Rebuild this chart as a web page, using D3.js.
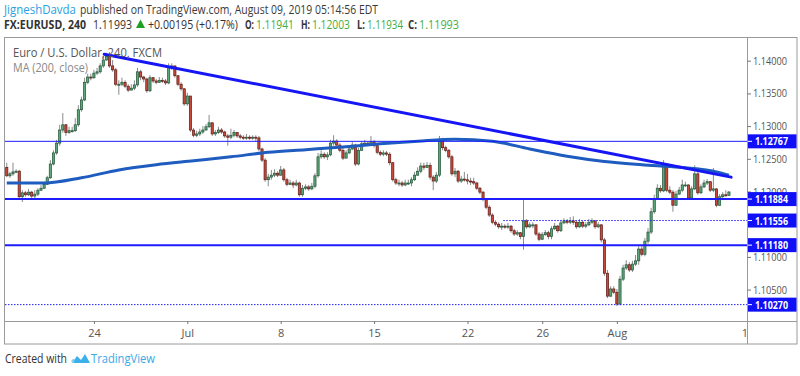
<!DOCTYPE html>
<html><head><meta charset="utf-8">
<script src="https://cdn.jsdelivr.net/npm/d3@7"></script>
<style>
body{margin:0;background:#fff;}
svg{display:block;font-family:"Open Sans","Liberation Sans",sans-serif;}
</style>
</head><body>
<svg id="c" width="800" height="376"></svg>
<script>
// ---------- DATA (EURUSD 4H, FXCM) ----------
const firstOpen = 1.1237;
const closes = [
1.1224,1.1227,1.1230,1.1231,1.1192,1.1198,1.1195,1.1199,1.1193,1.1196,
1.1202,1.1205,1.1211,1.1221,1.1242,1.1259,1.1274,1.1294,1.1302,1.1290,
1.1293,1.1293,1.1302,1.1325,1.1340,1.1367,1.1375,1.1374,1.1381,1.1383,
1.1392,1.1401,1.1407,1.1392,1.1386,1.1364,1.1364,1.1367,1.1361,1.1355,
1.1358,1.1363,1.1383,1.1375,1.1372,1.1354,1.1374,1.1369,1.1367,1.1370,
1.1369,1.1366,1.1390,1.1392,1.1377,1.1364,1.1357,1.1334,1.1346,1.1294,
1.1286,1.1288,1.1291,1.1294,1.1299,1.1305,1.1288,1.1290,1.1294,1.1291,
1.1285,1.1283,1.1286,1.1290,1.1285,1.1283,1.1282,1.1283,1.1282,1.1283,
1.1282,1.1265,1.1248,1.1218,1.1222,1.1225,1.1228,1.1225,1.1233,1.1218,
1.1211,1.1213,1.1210,1.1213,1.1195,1.1205,1.1207,1.1204,1.1208,1.1224,
1.1253,1.1257,1.1253,1.1256,1.1274,1.1277,1.1271,1.1263,1.1251,1.1259,
1.1265,1.1271,1.1242,1.1263,1.1273,1.1274,1.1273,1.1276,1.1270,1.1260,
1.1257,1.1259,1.1257,1.1244,1.1218,1.1213,1.1213,1.1210,1.1213,1.1213,
1.1218,1.1225,1.1231,1.1239,1.1237,1.1240,1.1222,1.1216,1.1225,1.1279,
1.1267,1.1263,1.1253,1.1227,1.1231,1.1216,1.1219,1.1218,1.1216,1.1215,
1.1213,1.1205,1.1199,1.1189,1.1176,1.1164,1.1153,1.1150,1.1146,1.1147,
1.1146,1.1147,1.1140,1.1135,1.1137,1.1131,1.1155,1.1146,1.1149,1.1149,
1.1135,1.1127,1.1134,1.1137,1.1131,1.1143,1.1147,1.1140,1.1152,1.1155,
1.1153,1.1155,1.1153,1.1146,1.1153,1.1147,1.1149,1.1153,1.1155,1.1146,
1.1149,1.1126,1.1075,1.1040,1.1051,1.1046,1.1028,1.1066,1.1083,1.1088,
1.1080,1.1089,1.1094,1.1112,1.1104,1.1124,1.1138,1.1169,1.1189,1.1205,
1.1201,1.1239,1.1202,1.1199,1.1179,1.1196,1.1202,1.1210,1.1210,1.1190,
1.1204,1.1227,1.1198,1.1207,1.1213,1.1215,1.1202,1.1204,1.1179,1.1192,
1.1195,1.11941,1.11993];
const highs = [
1.1244,1.1230,1.1244,1.1234,1.1233,1.1202,1.1201,1.1204,1.1201,1.1202,
1.1205,1.1210,1.1215,1.1224,1.1248,1.1263,1.1279,1.1302,1.1320,1.1303,
1.1299,1.1299,1.1312,1.1332,1.1345,1.1374,1.1380,1.1380,1.1386,1.1389,
1.1396,1.1407,1.1412,1.1413,1.1401,1.1389,1.1370,1.1374,1.1370,1.1364,
1.1364,1.1370,1.1389,1.1386,1.1377,1.1374,1.1378,1.1375,1.1372,1.1375,
1.1374,1.1372,1.1396,1.1396,1.1393,1.1378,1.1367,1.1358,1.1351,1.1346,
1.1297,1.1293,1.1296,1.1300,1.1303,1.1317,1.1306,1.1294,1.1299,1.1297,
1.1293,1.1288,1.1296,1.1294,1.1291,1.1288,1.1286,1.1288,1.1286,1.1286,
1.1286,1.1285,1.1267,1.1251,1.1227,1.1233,1.1234,1.1231,1.1239,1.1236,
1.1221,1.1218,1.1216,1.1218,1.1215,1.1210,1.1211,1.1210,1.1213,1.1228,
1.1259,1.1263,1.1260,1.1260,1.1279,1.1286,1.1280,1.1274,1.1267,1.1263,
1.1270,1.1276,1.1273,1.1267,1.1277,1.1279,1.1277,1.1285,1.1279,1.1273,
1.1263,1.1263,1.1262,1.1260,1.1245,1.1221,1.1218,1.1216,1.1218,1.1218,
1.1222,1.1230,1.1237,1.1244,1.1244,1.1245,1.1244,1.1225,1.1230,1.1285,
1.1282,1.1270,1.1265,1.1256,1.1236,1.1233,1.1224,1.1230,1.1227,1.1221,
1.1221,1.1215,1.1207,1.1201,1.1190,1.1179,1.1167,1.1156,1.1153,1.1152,
1.1150,1.1152,1.1149,1.1143,1.1141,1.1138,1.1187,1.1158,1.1153,1.1153,
1.1150,1.1138,1.1138,1.1141,1.1140,1.1147,1.1152,1.1149,1.1156,1.1159,
1.1158,1.1161,1.1162,1.1156,1.1158,1.1155,1.1153,1.1158,1.1159,1.1156,
1.1153,1.1150,1.1129,1.1080,1.1055,1.1055,1.1051,1.1071,1.1088,1.1095,
1.1092,1.1094,1.1103,1.1118,1.1117,1.1129,1.1144,1.1175,1.1195,1.1211,
1.1210,1.1248,1.1240,1.1208,1.1202,1.1201,1.1207,1.1218,1.1215,1.1211,
1.1208,1.1240,1.1230,1.1211,1.1218,1.1219,1.1216,1.1236,1.1205,1.1196,
1.1199,1.1202,1.12003];
const lows = [
1.1222,1.1221,1.1224,1.1228,1.1190,1.1184,1.1192,1.1193,1.1190,1.1190,
1.1193,1.1201,1.1204,1.1210,1.1219,1.1240,1.1256,1.1270,1.1290,1.1285,
1.1288,1.1290,1.1291,1.1299,1.1322,1.1338,1.1364,1.1370,1.1372,1.1378,
1.1380,1.1389,1.1400,1.1389,1.1383,1.1361,1.1348,1.1361,1.1358,1.1352,
1.1355,1.1355,1.1360,1.1370,1.1367,1.1351,1.1352,1.1366,1.1364,1.1366,
1.1366,1.1363,1.1364,1.1386,1.1374,1.1361,1.1354,1.1331,1.1331,1.1291,
1.1283,1.1283,1.1285,1.1288,1.1293,1.1297,1.1285,1.1285,1.1288,1.1288,
1.1282,1.1270,1.1280,1.1283,1.1282,1.1280,1.1279,1.1279,1.1279,1.1279,
1.1277,1.1262,1.1245,1.1215,1.1208,1.1218,1.1222,1.1222,1.1224,1.1215,
1.1208,1.1210,1.1205,1.1208,1.1192,1.1192,1.1202,1.1201,1.1202,1.1205,
1.1221,1.1250,1.1250,1.1248,1.1254,1.1270,1.1268,1.1260,1.1248,1.1251,
1.1257,1.1263,1.1239,1.1240,1.1262,1.1270,1.1270,1.1271,1.1267,1.1257,
1.1254,1.1254,1.1254,1.1240,1.1215,1.1210,1.1208,1.1207,1.1208,1.1210,
1.1208,1.1216,1.1224,1.1228,1.1233,1.1236,1.1218,1.1202,1.1213,1.1222,
1.1263,1.1260,1.1250,1.1224,1.1222,1.1213,1.1213,1.1215,1.1211,1.1210,
1.1210,1.1202,1.1196,1.1185,1.1173,1.1161,1.1150,1.1147,1.1143,1.1141,
1.1143,1.1143,1.1137,1.1132,1.1132,1.1127,1.1111,1.1143,1.1144,1.1144,
1.1132,1.1124,1.1126,1.1132,1.1127,1.1127,1.1141,1.1137,1.1138,1.1150,
1.1150,1.1150,1.1149,1.1143,1.1144,1.1144,1.1144,1.1147,1.1150,1.1143,
1.1144,1.1122,1.1071,1.1037,1.1039,1.1043,1.1025,1.1026,1.1063,1.1080,
1.1077,1.1077,1.1086,1.1088,1.1101,1.1101,1.1120,1.1135,1.1166,1.1187,
1.1198,1.1199,1.1199,1.1196,1.1169,1.1178,1.1195,1.1199,1.1207,1.1187,
1.1189,1.1202,1.1195,1.1196,1.1205,1.1210,1.1199,1.1199,1.1176,1.1178,
1.1190,1.1192,1.11934];

// MA(200, close) read at sample bars
const maBars   = [0,12,24,36,48,60,72,84,96,108,120,132,144,156,168,180,192,204,216,228,232];
const maValues = [1.1213,1.1213,1.1221,1.1233,1.1241,1.1247,1.1253,1.1260,1.1264,1.1268,1.1273,
                  1.1277,1.1280,1.1277,1.1265,1.1254,1.1246,1.1241,1.1237,1.1230,1.1225];

// trend line drawing (bar, price)
const trendBars   = [31.3, 232.7];
const trendPrices = [1.1410, 1.1222];

// horizontal levels
const levelPrices = [1.12767, 1.11884, 1.11556, 1.11180, 1.10270];
const levelKinds  = ["thin", "thick", "dotted", "thick", "dotted"];
const levelStartBar = [null, null, 159.5, null, null];

// price scale labels (1.11500 sits fully under the 1.11556 marker in the reference)
const priceTicks = [1.14, 1.135, 1.13, 1.125, 1.12, 1.11, 1.105];
const timeTickBars   = [28, 58, 88, 118, 148, 172, 196, 238];
const timeTickLabels = ["24", "Jul", "8", "15", "22", "26", "Aug", "12"];

// ---------- LAYOUT ----------
const svg = d3.select("#c");
const L = 5, R = 747, T = 38, B = 321, FR = 797, FB = 344;

const x = d3.scaleLinear().domain([-0.57, 237.8]).range([L, R]);
const y = d3.scaleLinear().domain([1.10020, 1.14347]).range([B, T]);

const defs = svg.append("defs");
defs.append("clipPath").attr("id","plot").append("rect")
  .attr("x",L).attr("y",T).attr("width",R-L).attr("height",B-T);
defs.append("clipPath").attr("id","taxis").append("rect")
  .attr("x",L).attr("y",B).attr("width",R-L).attr("height",FB-B);

// header
const hdr = svg.append("g").style("font-size","12.5px");
const l1 = hdr.append("text").attr("y",14);
l1.append("tspan").attr("x",4).attr("fill","#2c9fe0")
  .attr("textLength",72).attr("lengthAdjust","spacingAndGlyphs").text("JigneshDavda");
l1.append("tspan").attr("x",80).attr("fill","#3a3a3a")
  .attr("textLength",298).attr("lengthAdjust","spacingAndGlyphs")
  .text("published on TradingView.com, August 09, 2019 05:14:56 EDT");

const green = "#43ad43";
const line2 = [
  {t:"FX:EURUSD, 240", x:4, w:82, c:"#333", b:true},
  {t:"1.11993", x:93, w:39, c:"#333"},
  {t:"+0.00195 (+0.17%)", x:148, w:90, c:"#333"},
  {t:"O:", x:245, w:9, c:"#333", b:true},
  {t:"1.11941", x:256, w:38, c:green},
  {t:"H:", x:301, w:9, c:"#333", b:true},
  {t:"1.12003", x:312, w:38, c:green},
  {t:"L:", x:357, w:8, c:"#333", b:true},
  {t:"1.11934", x:367, w:36, c:green},
  {t:"C:", x:408, w:9, c:"#333", b:true},
  {t:"1.11993", x:419, w:40, c:green}
];
const l2 = hdr.append("text").attr("y",29);
l2.selectAll("tspan").data(line2).enter().append("tspan")
  .attr("x",d=>d.x).attr("fill",d=>d.c)
  .attr("font-weight",d=>d.b?"bold":"normal")
  .attr("textLength",d=>d.w).attr("lengthAdjust","spacingAndGlyphs").text(d=>d.t);
hdr.append("path").attr("d","M136,28 L145,28 L140.5,19.5 Z").attr("fill","#1fa01f");

// frame
svg.append("rect").attr("x",4.5).attr("y",T-0.5).attr("width",FR-4.5).attr("height",FB-T+0.5)
  .attr("fill","none").attr("stroke","#9a9a9a");
svg.append("line").attr("x1",R+0.5).attr("x2",R+0.5).attr("y1",T).attr("y2",FB).attr("stroke","#9a9a9a");
svg.append("line").attr("x1",4.5).attr("x2",FR).attr("y1",B+0.5).attr("y2",B+0.5).attr("stroke","#9a9a9a");

// candles
const plot = svg.append("g").attr("clip-path","url(#plot)");
const bars = closes.map((c,i)=>{
  const o = i===0 ? firstOpen : closes[i-1];
  return {i, o, c, h:Math.max(highs[i],o,c), l:Math.min(lows[i],o,c)};
});
const cg = plot.append("g");
cg.selectAll("line.wick").data(bars).enter().append("line")
  .attr("x1",d=>x(d.i)).attr("x2",d=>x(d.i))
  .attr("y1",d=>y(d.h)).attr("y2",d=>y(d.l))
  .attr("stroke","#8a8a8c").attr("stroke-width",1);
cg.selectAll("rect.body").data(bars).enter().append("rect")
  .attr("x",d=>x(d.i)-1.1).attr("width",2.2)
  .attr("y",d=>y(Math.max(d.o,d.c)))
  .attr("height",d=>Math.max(1,Math.abs(y(d.o)-y(d.c))))
  .attr("fill",d=>d.c>=d.o?"#5ba67a":"#c94a3c")
  .attr("stroke",d=>d.c>=d.o?"#225437":"#5b1a13").attr("stroke-width",0.7);

// MA line
const maPts = maBars.map((b,k)=>[b,maValues[k]]);
plot.append("path").datum(maPts)
  .attr("d",d3.line().x(d=>x(d[0])).y(d=>y(d[1])).curve(d3.curveMonotoneX))
  .attr("fill","none").attr("stroke","#1f5cbf").attr("stroke-width",3);

// levels
const lvl = levelPrices.map((p,k)=>({p,k:levelKinds[k],s:levelStartBar[k]}));
plot.selectAll("line.lvl").data(lvl).enter().append("line")
  .attr("x1",d=>d.s==null?L:x(d.s)).attr("x2",R)
  .attr("y1",d=>y(d.p)).attr("y2",d=>y(d.p))
  .attr("stroke","#1c1cff")
  .attr("stroke-width",d=>d.k==="thick"?2:1)
  .attr("stroke-dasharray",d=>d.k==="dotted"?"1.5,1.5":null);

// trend line
plot.append("line")
  .attr("x1",x(trendBars[0])).attr("y1",y(trendPrices[0]))
  .attr("x2",x(trendBars[1])).attr("y2",y(trendPrices[1]))
  .attr("stroke","#1515f5").attr("stroke-width",3).attr("stroke-linecap","round");

// legend
svg.append("text").attr("x",13).attr("y",57).attr("fill","#555").style("font-size","12.5px")
  .attr("textLength",149).attr("lengthAdjust","spacingAndGlyphs").text("Euro / U.S. Dollar, 240, FXCM");
svg.append("text").attr("x",13).attr("y",72).attr("fill","#888").style("font-size","12.5px")
  .attr("textLength",75).attr("lengthAdjust","spacingAndGlyphs").text("MA (200, close)");

// price axis
const pa = svg.append("g").attr("transform",`translate(${R},0)`)
  .call(d3.axisRight(y).tickValues(priceTicks).tickFormat(d3.format(".5f")).tickSize(4).tickPadding(2));
pa.select(".domain").remove();
pa.selectAll(".tick line").attr("stroke","#777");
pa.selectAll(".tick text").attr("fill","#555").style("font-size","11px")
  .attr("textLength",34).attr("lengthAdjust","spacingAndGlyphs").style("font-family","'Open Sans',sans-serif");

// level boxes
const bx = svg.append("g");
const bxg = bx.selectAll("g").data(lvl).enter().append("g")
  .attr("transform",d=>`translate(${R+1},${y(d.p)})`);
bxg.append("rect").attr("x",0).attr("y",-7).attr("width",FR-R-1.5).attr("height",14).attr("fill","#1010f8");
bxg.append("line").attr("x1",0).attr("x2",4).attr("y1",0).attr("y2",0).attr("stroke","#fff");
bxg.append("text").attr("x",7).attr("y",4).attr("fill","#fff").attr("font-weight","bold")
  .style("font-size","11px").attr("textLength",33).attr("lengthAdjust","spacingAndGlyphs")
  .text(d=>d.p.toFixed(5));

// time axis
const ta = svg.append("g").attr("clip-path","url(#taxis)").append("g")
  .attr("transform",`translate(0,${B})`)
  .call(d3.axisBottom(x).tickValues(timeTickBars).tickFormat((d,i)=>timeTickLabels[i]).tickSize(3).tickPadding(5));
ta.select(".domain").remove();
ta.selectAll(".tick line").attr("stroke","#777");
ta.selectAll(".tick text").attr("fill","#555").style("font-size","11px")
  .style("font-family","'Open Sans',sans-serif");

// footer
svg.append("text").attr("x",5).attr("y",363).attr("fill","#333").style("font-size","12.5px")
  .attr("textLength",62).attr("lengthAdjust","spacingAndGlyphs").text("Created with");
const logo = svg.append("g").attr("transform","translate(71,352)");
logo.append("path").attr("d","M1,11 L6,4 L10,8 L14,2 L19,11 Z").attr("fill","#3cb0e8");
logo.append("path").attr("d","M3,11 Q0,11 0.5,8.5 Q1,6.5 3.5,7 Z").attr("fill","#7fd0f2");
svg.append("text").attr("x",91).attr("y",363).attr("fill","#3aa8e6").style("font-size","12.5px")
  .attr("textLength",64).attr("lengthAdjust","spacingAndGlyphs").text("TradingView");
</script>
</body></html>
